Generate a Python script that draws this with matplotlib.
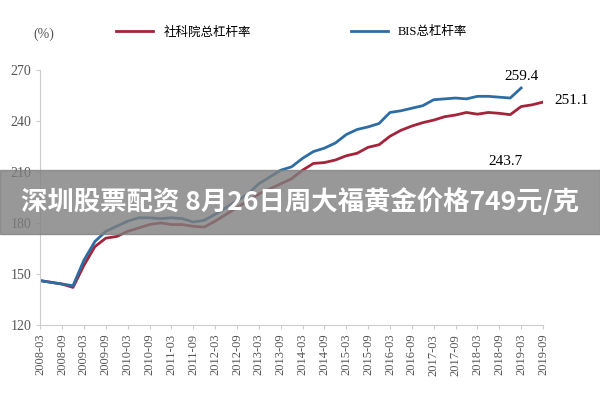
import matplotlib
matplotlib.use("Agg")
import matplotlib.pyplot as plt
import matplotlib.patches as mpatches
import numpy as np

plt.rcParams['font.family'] = ['Liberation Serif', 'Noto Sans CJK SC']

red = [146, 145, 144, 142, 155, 166, 171, 172, 175, 177, 179, 180, 179, 179, 178, 177.5,
       181, 185, 189, 193, 197, 200, 203, 206, 211, 215, 215.5, 217, 219.5, 221, 224.5, 226,
       231, 234.5, 237, 239, 240.5, 242.5, 243.5, 245, 244, 245, 244.5, 243.7, 248.5, 249.5, 251.1]
blue = [146, 145, 144, 143, 158, 169, 175, 178, 181, 183, 183, 182.5, 183, 182.5, 180.5, 181.5,
        185, 189, 193, 197, 203, 207, 211, 213, 218, 222, 224, 227, 232, 235, 236.5, 238.5,
        245, 246, 247.5, 249, 252.5, 253, 253.5, 253, 254.5, 254.5, 254, 253.5, 259.4]
ticks = [f"{y}-{m}" for y in range(2008, 2020) for m in ("03", "09")]

fig = plt.figure(figsize=(6, 4), dpi=100)
ax = fig.add_axes([0.067, 0.188, 0.838, 0.637])
ax.plot(np.arange(len(red)), red, color="#a3243b", lw=2, label="社科院总杠杆率")
ax.plot(np.arange(len(blue)), blue, color="#2e6da4", lw=2, label="BIS总杠杆率")
ax.set_xlim(0, 46)
ax.set_ylim(120, 270)
ax.set_yticks([120, 150, 180, 210, 240, 270])
ax.set_xticks(np.arange(0, 47, 2))
ax.set_xticklabels(ticks, rotation=90, fontsize=9, color="#555555")
ax.tick_params(axis='y', labelsize=10, colors="#555555", length=3, color="#cccccc")
ax.tick_params(axis='x', length=3, color="#cccccc")
for s in ["top", "right"]:
    ax.spines[s].set_visible(False)
for s in ["left", "bottom"]:
    ax.spines[s].set_color("#cccccc")
fig.text(0.055, 0.905, "(%)", fontsize=10, color="#555555")
ax.annotate("259.4", (44, 259.4), xytext=(42.5, 264), fontsize=11)
ax.annotate("251.1", (46, 251.1), xytext=(47, 250), fontsize=11, annotation_clip=False)
ax.annotate("243.7", (43, 243.7), xytext=(41, 214), fontsize=11)
ax.legend(loc="lower center", bbox_to_anchor=(0.5, 1.08), ncol=2, frameon=False,
          fontsize=9, handlelength=3, columnspacing=8)
fig.patches.append(mpatches.Rectangle((0, 0.415), 1, 0.16, transform=fig.transFigure,
                                      color="#7f7f7f", alpha=0.8, zorder=5))
fig.text(0.5, 0.495, "深圳股票配资 8月26日周大福黄金价格749元/克", ha="center", va="center",
         fontsize=19, color="white", fontweight="bold", family="Noto Sans CJK SC", zorder=6)
fig.savefig("out.png")
